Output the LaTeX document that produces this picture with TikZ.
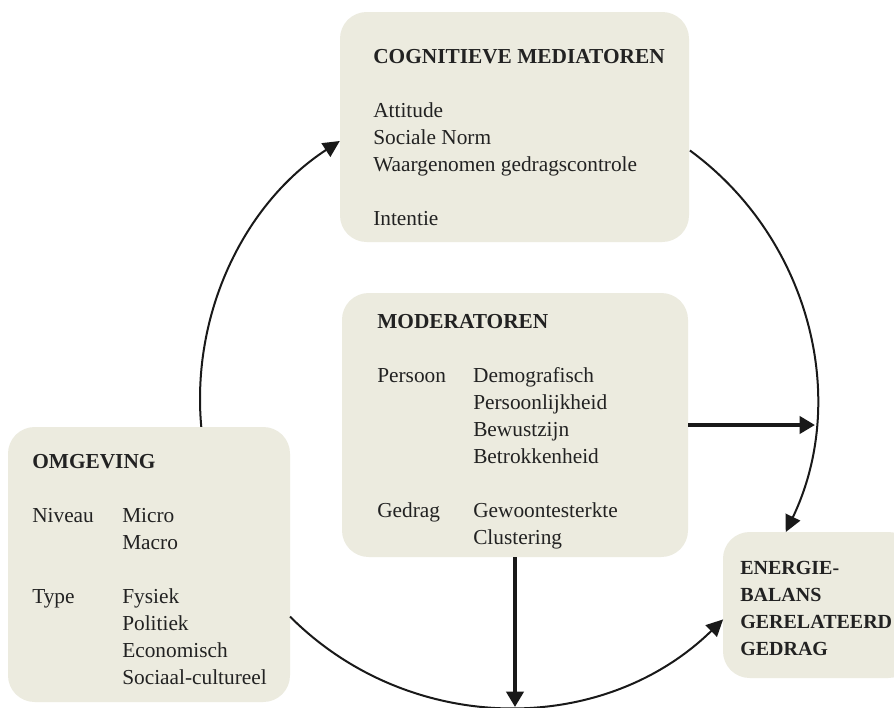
\documentclass[tikz,border=0pt]{standalone}
\usepackage{fontspec}
\setmainfont{Liberation Serif}
\usetikzlibrary{arrows.meta,calc}
\definecolor{boxfill}{HTML}{ECEBDF}
\definecolor{ink}{HTML}{222222}
\begin{document}
\begin{tikzpicture}[x=0.75pt,y=0.75pt,
  box/.style={fill=boxfill,draw=none,rounded corners=20pt,inner sep=0pt},
  txt/.style={anchor=base west,inner sep=0pt,text=ink,font=\fontsize{16}{20.25}\selectfont},
  conn/.style={draw=black!90,line width=1.5pt,-{Triangle[length=12.5pt,width=12pt]}},
  bigconn/.style={draw=black!90,line width=2.4pt,-{Triangle[length=11.5pt,width=13pt]}}]
\useasboundingbox (0,0) rectangle (894,-708);
\clip (0,0) rectangle (894,-708);
\fill[white] (0,0) rectangle (894,-708);

% boxes
\node[box,minimum width=261.75pt,minimum height=172.5pt] (cog) at (514.5,-127) {};
\node[box,minimum width=259.5pt,minimum height=198pt] (mod) at (515,-425) {};
\node[box,minimum width=211.5pt,minimum height=206.25pt] (omg) at (149,-564.5) {};
\node[box,minimum width=144pt,minimum height=109.5pt] (ene) at (819,-605) {};

% texts
\node[txt] (cogt) at (373,-63) {\begin{tabular}[t]{@{}l@{}}\textbf{COGNITIEVE MEDIATOREN}\\ \\ Attitude\\ Sociale Norm\\ Waargenomen gedragscontrole\\ \\ Intentie\end{tabular}};
\node[txt] (modt) at (377,-328) {\begin{tabular}[t]{@{}p{72pt}@{}l@{}}\multicolumn{2}{@{}l@{}}{\textbf{MODERATOREN}}\\ & \\ Persoon & Demografisch\\ & Persoonlijkheid\\ & Bewustzijn\\ & Betrokkenheid\\ & \\ Gedrag & Gewoontesterkte\\ & Clustering\end{tabular}};
\node[txt] (omgt) at (32,-468) {\begin{tabular}[t]{@{}p{67.5pt}@{}l@{}}\multicolumn{2}{@{}l@{}}{\textbf{OMGEVING}}\\ & \\ Niveau & Micro\\ & Macro\\ & \\ Type & Fysiek\\ & Politiek\\ & Economisch\\ & Sociaal-cultureel\end{tabular}};
\node[txt,font=\fontsize{15}{20.25}\selectfont] (enet) at (740,-574) {\begin{tabular}[t]{@{}l@{}}\textbf{ENERGIE-}\\ \textbf{BALANS}\\ \textbf{GERELATEERD}\\ \textbf{GEDRAG}\end{tabular}};

% circle connectors
\coordinate (c) at (508,-399);
\draw[conn] ($(c)+(185.2:308)$) arc[start angle=185.2,end angle=123.1,radius=308];
\draw[conn] ($(c)+(53.8:308)$) arc[start angle=53.8,end angle=-25.6,radius=308];
\draw[conn] ($(c)+(224.95:308)$) arc[start angle=224.95,end angle=314.3,radius=308];

% straight connectors
\coordinate (hend) at (814.9,-425);
\coordinate (vend) at (515,-706.9);
\draw[bigconn] (mod.east) -- (hend);
\draw[bigconn] (mod.south) -- (vend);
\end{tikzpicture}
\end{document}
